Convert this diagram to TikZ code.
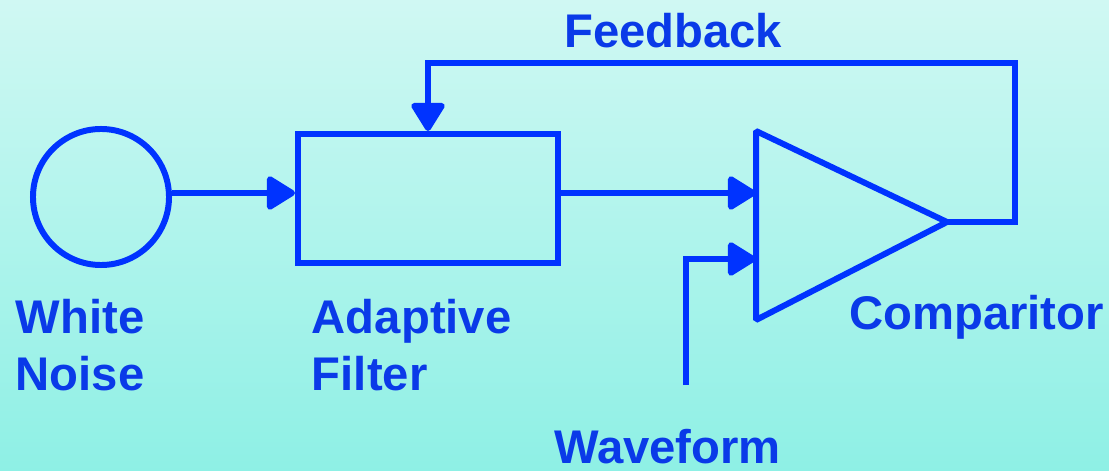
\documentclass[tikz,border=0pt]{standalone}
\usepackage{fontspec}
\setmainfont{Liberation Sans}
\usetikzlibrary{arrows.meta}

\definecolor{lineblue}{RGB}{0,51,255}
\definecolor{textblue}{RGB}{10,58,232}
\definecolor{bgtop}{RGB}{208,248,243}
\definecolor{bgbot}{RGB}{142,240,229}

\tikzset{
	blk/.style = {draw = lineblue, line width = 4.25pt, inner sep = 0pt},
	wire/.style = {draw = lineblue, line width = 4.25pt},
	arr/.style = {wire, -{Triangle[length = 22pt, width = 26pt, round]}},
	lbl/.style = {text = textblue, font = \bfseries\fontsize{33.6}{40.3}\selectfont, inner sep = 0pt, align = left}
}

\begin{document}
\begin{tikzpicture}[x = 0.025cm, y = -0.025cm]

	% Background
	
	\useasboundingbox (0, 0) rectangle (1109, 471);
	\shade [top color = bgtop, bottom color = bgbot] (0, 0) rectangle (1109, 471);
	
	% Blocks
	
	\node [blk, circle, minimum size = 3.4cm] (noise) at (101, 197) {};
	\node [blk, rectangle, minimum width = 6.5cm, minimum height = 3.225cm] (filter) at (428, 198.5) {};
	
	% Comparitor
	
	\coordinate (cmpA) at (756, 131);
	\coordinate (cmpB) at (756, 320);
	\coordinate (cmpC) at (947, 222);
	\draw [wire, line join = bevel] (cmpA) -- (cmpC) -- (cmpB) -- cycle;
	
	\coordinate (row) at (0, 193);
	\coordinate (in1) at (cmpA |- row);
	\coordinate (in2) at (756, 259);
	\coordinate (wave) at (686, 385);
	\coordinate (fbk) at (1015, 63);
	
	% Connectors
	
	\draw [arr] (noise.east |- row) -- (filter.west |- row);
	\draw [arr] (filter.east |- row) -- (in1);
	\draw [arr] (wave) |- (in2);
	\draw [arr] (cmpC) -| (fbk) -| (filter.north);
	
	% Labels
	
	\node [lbl, anchor = base west] (fbLbl) at (564, 48) {Feedback};
	\node [lbl, anchor = base west] (cmpLbl) at (849, 330) {Comparitor};
	\node [lbl, anchor = base west] (wvLbl) at (554, 463) {Waveform};
	\node [lbl, anchor = base west] (nsLbl) at (15.5, 390) {White\\Noise};
	\node [lbl, anchor = base west] (flLbl) at (311.6, 390) {Adaptive\\Filter};

\end{tikzpicture}
\end{document}
